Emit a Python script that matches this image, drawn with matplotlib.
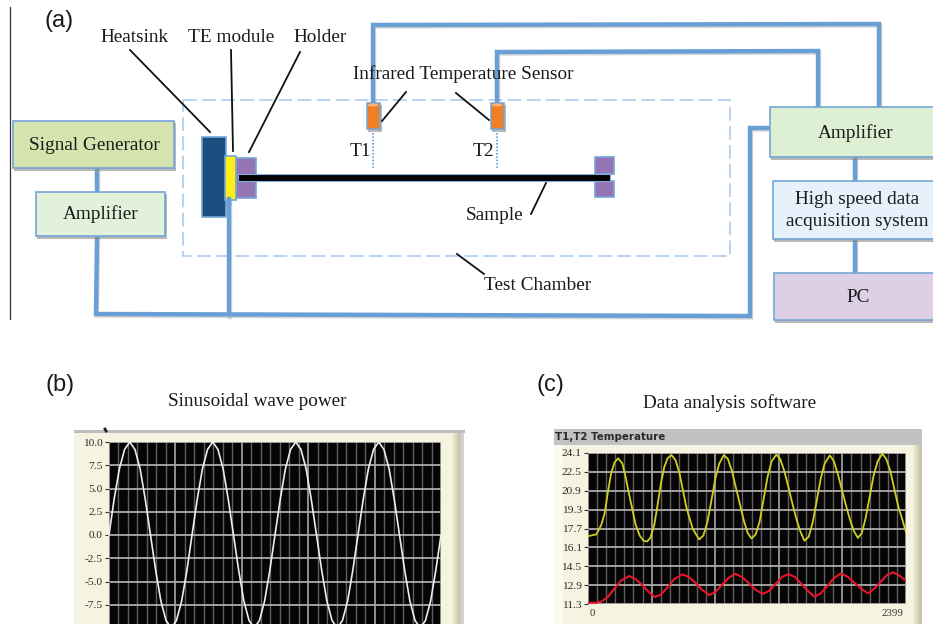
import numpy as np
import matplotlib
matplotlib.use('Agg')
import matplotlib.pyplot as plt
from matplotlib.patches import Rectangle, Ellipse

W, H = 933, 624
SERIF = 'Liberation Serif'
WIRE = '#6A9FD6'
EDGE = '#74A5D8'

# panel (b), sinusoidal wave power, one value per sample
wave_values = [0.0, 3.9, 7.1, 9.2, 10.0, 9.2, 7.1, 3.8, 0.0, -3.8, -7.1, -9.2, -10.0, -9.2, -7.1, -3.9,
               0.0, 3.8, 7.1, 9.2, 10.0, 9.2, 7.1, 3.8, 0.0, -3.8, -7.1, -9.2, -10.0, -9.2, -7.1, -3.8,
               0.0, 3.8, 7.1, 9.2, 10.0, 9.2, 7.1, 3.8, 0.0, -3.8, -7.1, -9.2, -10.0, -9.2, -7.1, -3.8,
               0.0, 3.8, 7.1, 9.2, 10.0, 9.2, 7.1, 3.8, 0.0, -3.8, -7.1, -9.2, -10.0, -9.2, -7.1, -3.8, 0.0]
wave_ticks = [10.0, 7.5, 5.0, 2.5, 0.0, -2.5, -5.0, -7.5, -10.0]
wave_labels = ['10.0', '7.5', '5.0', '2.5', '0.0', '-2.5', '-5.0', '-7.5', '-10.0']

# panel (c), T1 and T2 temperature traces
t1_samples = [0, 63, 100, 126, 150, 175, 200, 227, 260, 285, 310, 335, 360, 390, 420, 446,
              470, 500, 525, 550, 575, 600, 630, 660, 690, 715, 740, 765, 790, 815, 839,
              870, 900, 930, 960, 990, 1025, 1055, 1085, 1115, 1145, 1175, 1205, 1234,
              1265, 1295, 1325, 1355, 1385, 1421, 1450, 1480, 1510, 1540, 1570, 1600, 1633,
              1665, 1695, 1725, 1755, 1785, 1824, 1855, 1885, 1915, 1945, 1975, 2005, 2036,
              2065, 2095, 2125, 2155, 2185, 2220, 2250, 2280, 2310, 2340, 2370, 2399]
t1_values = [17.05, 17.2, 18.0, 19.0, 20.8, 22.4, 23.3, 23.65, 23.2, 22.0, 20.6, 19.3, 18.0, 17.1, 16.65, 16.6,
             16.9, 18.0, 19.7, 21.5, 22.9, 23.65, 23.93, 23.5, 22.4, 21.0, 19.6, 18.6, 17.7, 17.2, 16.77,
             17.1, 18.2, 20.0, 21.9, 23.2, 23.93, 23.6, 22.6, 21.2, 19.8, 18.4, 17.3, 16.85,
             17.2, 18.3, 20.2, 22.1, 23.4, 23.96, 23.6, 22.6, 21.3, 19.9, 18.6, 17.5, 16.66,
             17.0, 18.2, 20.0, 21.9, 23.2, 23.9, 23.4, 22.3, 21.0, 19.7, 18.5, 17.5, 16.9,
             17.3, 18.6, 20.4, 22.2, 23.4, 24.04, 23.6, 22.6, 21.1, 19.6, 18.5, 17.4]
t2_samples = [0, 60, 100, 150, 200, 250, 310, 360, 410, 460, 504, 550, 600, 650, 711, 760, 810, 860, 915,
              960, 1010, 1060, 1109, 1160, 1210, 1265, 1318, 1365, 1415, 1465, 1512, 1560, 1610, 1660, 1709,
              1755, 1805, 1855, 1908, 1960, 2010, 2060, 2112, 2160, 2210, 2255, 2301, 2350, 2399]
t2_values = [11.4, 11.4, 11.5, 11.9, 12.6, 13.3, 13.67, 13.4, 12.9, 12.3, 11.89, 12.1, 12.7, 13.4, 13.81, 13.6, 13.1, 12.5, 12.06,
             12.3, 12.9, 13.5, 13.87, 13.6, 13.1, 12.5, 12.15, 12.4, 13.0, 13.6, 13.84, 13.6, 13.0, 12.4, 11.92,
             12.2, 12.8, 13.5, 13.89, 13.6, 13.1, 12.6, 12.2, 12.6, 13.2, 13.75, 13.98, 13.7, 13.27]
temp_ticks = [24.1, 22.5, 20.9, 19.3, 17.7, 16.1, 14.5, 12.9, 11.3]


def px_axes(fig, left, top, right, bottom):
  return fig.add_axes([left / W, 1 - bottom / H, (right - left) / W, (bottom - top) / H])


def box(ax, x0, y0, x1, y1, fill, edge=EDGE, lw=1.2, shadow=True, z=3):
  if shadow:
    ax.add_patch(Rectangle((x0 + 1, y0 + 2), x1 - x0 + 1, y1 - y0 + 1, fc='#8A8A8A', ec='none', alpha=0.6, zorder=z - 0.5))
  ax.add_patch(Rectangle((x0, y0), x1 - x0, y1 - y0, fc=fill, ec=edge, lw=lw, zorder=z))


def wire(ax, xs, ys):
  ax.plot(xs, ys, color='#A8A8A8', lw=3.2, alpha=0.45, zorder=1.4, solid_joinstyle='miter',
          transform=ax.transData + matplotlib.transforms.ScaledTranslation(1 / 100, -1.5 / 100, ax.figure.dpi_scale_trans))
  ax.plot(xs, ys, color=WIRE, lw=3.2, zorder=1.5, solid_capstyle='butt', solid_joinstyle='miter')


def leader(ax, xs, ys):
  ax.plot(xs, ys, color='#111111', lw=1.3, zorder=6)


def label(ax, x, y, s, size=13.9, color='#1A1A1A', family=SERIF, z=7):
  ax.text(x, y, s, ha='center', va='center', fontsize=size, color=color, family=family, zorder=z)


def bevel(ax, x0, y0, y1):
  # shaded right edge of the instrument panels
  shades = ['#F1EEDA', '#EBE8D2', '#E5E2CA', '#DEDBC2', '#D8D5BA', '#D2CFB3', '#CCC9AC', '#C7C4A6', '#C9C7B0']
  for i, shade in enumerate(shades):
    ax.add_patch(Rectangle((x0 + i, y0), 1.2, y1 - y0, fc=shade, ec='none', zorder=1.1))


def draw_diagram(ax):
  # frame line at the far left
  ax.plot([9.5, 9.5], [7, 319], color='#333333', lw=0.9)

  # test chamber
  ax.add_patch(Rectangle((183, 100), 547, 156, fc='none', ec='#A5C6EA', lw=1.1, ls=(0, (9, 3.5)), zorder=1))

  # wires
  wire(ax, [373, 373, 879, 879], [103, 25, 24, 107])
  wire(ax, [497, 497, 818, 818], [103, 52, 51, 107])
  wire(ax, [770, 750, 750, 96, 97], [128, 128, 316, 314, 237])
  wire(ax, [97, 97], [168, 192])
  wire(ax, [229, 229], [199, 315])
  wire(ax, [855, 855], [157, 181])
  wire(ax, [855, 855], [239, 273])

  # instrument boxes
  box(ax, 13, 121, 174, 168, '#D7E3AF')
  box(ax, 36, 192, 165, 236, '#E1F1DA')
  box(ax, 770, 107, 940, 157, '#DDF0D4')
  box(ax, 773, 181, 940, 239, '#E7F1FB')
  box(ax, 774, 273, 940, 320, '#DDD0E6')

  # sample stage
  box(ax, 202, 137, 226, 217, '#1B4F7F', shadow=False)
  box(ax, 236, 158, 256, 198, '#9575B5', shadow=False)
  box(ax, 595, 157, 614, 174, '#9575B5', shadow=False)
  box(ax, 595, 181, 614, 197, '#9575B5', shadow=False)
  box(ax, 225, 156, 236, 200, '#FFEE11', shadow=False, z=4)
  ax.add_patch(Rectangle((238, 173.5), 372, 7.5, fc='#000000', ec='#7FAEDD', lw=0.8, zorder=5))
  ax.plot([229, 229], [199, 204], color=WIRE, lw=3.2, zorder=5)

  # infrared sensors and their dotted sight lines
  for x in [373, 497]:
    box(ax, x - 6.5, 103, x + 6.5, 129, '#EE7F22', lw=1.1)
    ax.add_patch(Ellipse((x, 105), 11, 3, fc='#F5B27A', ec='none', zorder=3.2))
    ax.plot([x, x], [133, 168], color='#6A9FD6', lw=1.2, ls=(0, (1, 1)), zorder=2)

  leader(ax, [130, 210], [50, 132])
  leader(ax, [231, 233], [50, 151])
  leader(ax, [300, 249], [52, 152])
  leader(ax, [406, 382], [92, 121])
  leader(ax, [456, 489], [93, 120])
  leader(ax, [546, 531], [183, 214])
  leader(ax, [457, 484], [254, 274])

  label(ax, 134, 37, 'Heatsink')
  label(ax, 231, 37, 'TE module')
  label(ax, 320, 37, 'Holder')
  label(ax, 463, 74, 'Infrared Temperature Sensor')
  label(ax, 360, 152, 'T1')
  label(ax, 483, 152, 'T2')
  label(ax, 495, 215, 'Sample')
  label(ax, 538, 286, 'Test Chamber')
  label(ax, 94, 145, 'Signal Generator')
  label(ax, 101, 214, 'Amplifier')
  label(ax, 856, 133, 'Amplifier')
  label(ax, 857, 199, 'High speed data')
  label(ax, 857, 221, 'acquisition system')
  label(ax, 858, 297, 'PC')

  label(ax, 59, 21, '(a)', size=17, family='Liberation Sans')
  label(ax, 60, 385, '(b)', size=17, family='Liberation Sans')
  label(ax, 550, 385, '(c)', size=17, family='Liberation Sans')
  label(ax, 257, 401, 'Sinusoidal wave power', size=13.8)
  label(ax, 730, 403, 'Data analysis software', size=13.8)


def draw_panels(ax):
  # panel (b) surround
  ax.add_patch(Rectangle((74, 432), 388, 200, fc='#F6F3E1', ec='none', zorder=1))
  ax.add_patch(Rectangle((74, 430), 391, 3, fc='#BDBDBD', ec='none', zorder=1.2))
  bevel(ax, 452, 433, 632)
  ax.add_patch(Rectangle((461, 430), 3, 200, fc='#D2D2D2', ec='none', zorder=1.1))
  ax.plot([105, 106], [429, 431], color='#222222', lw=2, zorder=1.3)

  # panel (c) surround
  ax.add_patch(Rectangle((554, 445), 368, 185, fc='#FBFAF0', ec='none', zorder=1))
  ax.add_patch(Rectangle((563, 445), 350, 185, fc='#F6F3E1', ec='none', zorder=1.05))
  bevel(ax, 913, 445, 630)
  ax.add_patch(Rectangle((554, 429), 368, 16, fc='#C2C2C2', ec='none', zorder=1.2))
  ax.text(555, 437, 'T1,T2 Temperature', ha='left', va='center', fontsize=7.4, fontweight='bold',
          family='DejaVu Sans', color='#2A2A2A', zorder=2)
  label(ax, 592, 614, '0', size=7.8, color='#333333', z=2)
  label(ax, 892, 614, '2399', size=7.8, color='#333333', z=2)


def style_scope(ax, n_samples, ticks, labels):
  ax.set_facecolor('#050505')
  ax.set_xlim(0, n_samples)
  ax.set_ylim(min(ticks), max(ticks))
  ax.set_yticks(ticks, labels)

  # 35 vertical divisions, every seventh one is brighter
  divisions = np.linspace(0, n_samples, 36)
  ax.set_xticks(divisions[::7])
  ax.set_xticklabels([])
  ax.set_xticks(divisions, minor=True)
  ax.grid(True, axis='x', which='minor', color='#606060', lw=1.0)
  ax.grid(True, axis='x', which='major', color='#B4B4B4', lw=1.1)
  ax.grid(True, axis='y', which='major', color='#ACACAC', lw=1.3)
  ax.set_axisbelow(True)
  ax.tick_params(axis='x', which='both', length=0)
  ax.tick_params(axis='y', length=3, width=0.8, color='#333333', pad=1.5, labelsize=8.2, labelcolor='#2A2A2A')
  for tick in ax.get_yticklabels():
    tick.set_family(SERIF)
  for spine in ax.spines.values():
    spine.set_visible(False)


if __name__ == "__main__":
  fig = plt.figure(figsize=(W / 100, H / 100), dpi=100, facecolor='white')

  canvas = fig.add_axes([0, 0, 1, 1])
  canvas.set_xlim(0, W)
  canvas.set_ylim(H, 0)
  canvas.axis('off')
  draw_panels(canvas)
  draw_diagram(canvas)

  # sinusoidal wave scope, runs past the bottom of the picture
  ax_b = px_axes(fig, 109, 442, 441, 628)
  style_scope(ax_b, len(wave_values) - 1, wave_ticks, wave_labels)
  ax_b.plot(np.arange(len(wave_values)), wave_values, color='#EDEDED', lw=1.2, clip_on=False)

  # temperature scope
  ax_c = px_axes(fig, 588, 453, 906, 604)
  style_scope(ax_c, 2399, temp_ticks, ['%.1f' % t for t in temp_ticks])
  ax_c.plot(t1_samples, t1_values, color='#CFCF20', lw=1.3)
  ax_c.plot(t2_samples, t2_values, color='#E8142C', lw=1.5)

  fig.savefig('out.png', dpi=100)
